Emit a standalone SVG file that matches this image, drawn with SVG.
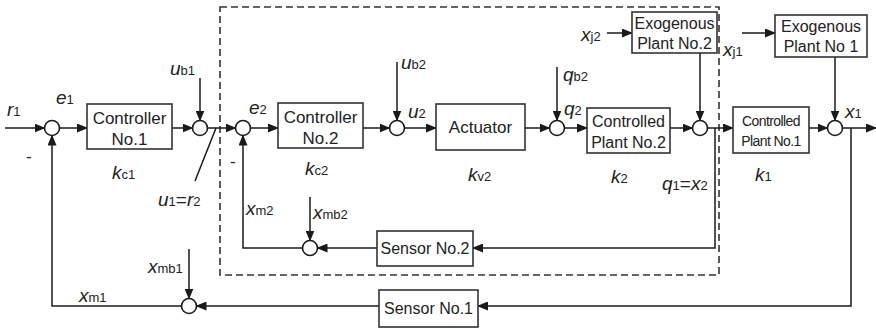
<svg xmlns="http://www.w3.org/2000/svg" width="876" height="331" viewBox="0 0 876 331">
<defs>
<marker id="ah" markerWidth="11" markerHeight="9" refX="10" refY="4.5" orient="auto" markerUnits="userSpaceOnUse">
<path d="M0,0 L11,4.5 L0,9 Z" fill="#1a1a1a"/>
</marker>
</defs>
<style>
.box{fill:#fff;stroke:#333;stroke-width:1.6}
.sum{fill:#fff;stroke:#1a1a1a;stroke-width:1.6}
.ln{fill:none;stroke:#1a1a1a;stroke-width:1.5}
.ar{fill:none;stroke:#1a1a1a;stroke-width:1.5;marker-end:url(#ah)}
.dash{fill:none;stroke:#333;stroke-width:1.6;stroke-dasharray:7,4}
text{font-family:"Liberation Sans",Arial,sans-serif;fill:#222}
.bt{font-size:17px;text-anchor:middle}
.lb{font-size:19px;font-style:italic}
.sb{font-size:13px;font-style:normal}
</style>
<rect class="dash" x="220" y="7" width="499" height="268"/>
<g id="connectors">
<line class="ar" x1="5" y1="128" x2="44.5" y2="128"/>
<line class="ar" x1="59.5" y1="128" x2="87" y2="128"/>
<line class="ar" x1="172" y1="128" x2="192.5" y2="128"/>
<line class="ar" x1="200" y1="78" x2="200" y2="120.5"/>
<line class="ar" x1="207.5" y1="128" x2="235.5" y2="128"/>
<line class="ln" x1="216" y1="128" x2="195" y2="181"/>
<line class="ar" x1="250.5" y1="128" x2="278" y2="128"/>
<line class="ar" x1="363" y1="128" x2="389.5" y2="128"/>
<line class="ar" x1="397" y1="62" x2="397" y2="120.5"/>
<line class="ar" x1="404.5" y1="128" x2="436" y2="128"/>
<line class="ar" x1="525" y1="128" x2="549.5" y2="128"/>
<line class="ar" x1="557" y1="67" x2="557" y2="120.5"/>
<line class="ar" x1="564.5" y1="128" x2="587" y2="128"/>
<line class="ar" x1="670" y1="128" x2="692.5" y2="128"/>
<line class="ar" x1="607" y1="33" x2="632" y2="33"/>
<line class="ar" x1="700" y1="53" x2="700" y2="120.5"/>
<line class="ar" x1="707.5" y1="128" x2="733" y2="128"/>
<polyline class="ar" points="715,128 715,248 473,248"/>
<line class="ar" x1="809" y1="128" x2="827.5" y2="128"/>
<line class="ar" x1="742" y1="33" x2="775" y2="33"/>
<line class="ar" x1="835" y1="57" x2="835" y2="120.5"/>
<line class="ar" x1="842.5" y1="128" x2="876" y2="128"/>
<polyline class="ar" points="851,128 851,306 478,306"/>
<line class="ar" x1="377" y1="248" x2="317.5" y2="248"/>
<line class="ar" x1="310" y1="197" x2="310" y2="240.5"/>
<polyline class="ar" points="302.5,248 243,248 243,135.5"/>
<line class="ar" x1="379" y1="306" x2="196.5" y2="306"/>
<line class="ar" x1="189" y1="249" x2="189" y2="298.5"/>
<polyline class="ar" points="181.5,306 52,306 52,135.5"/>
</g>
<g id="sum1"><circle class="sum" cx="52" cy="128" r="7.5"/></g>
<g id="sum2"><circle class="sum" cx="200" cy="128" r="7.5"/></g>
<g id="sum3"><circle class="sum" cx="243" cy="128" r="7.5"/></g>
<g id="sum4"><circle class="sum" cx="397" cy="128" r="7.5"/></g>
<g id="sum5"><circle class="sum" cx="557" cy="128" r="7.5"/></g>
<g id="sum6"><circle class="sum" cx="700" cy="128" r="7.5"/></g>
<g id="sum7"><circle class="sum" cx="835" cy="128" r="7.5"/></g>
<g id="sum8"><circle class="sum" cx="310" cy="248" r="7.5"/></g>
<g id="sum9"><circle class="sum" cx="189" cy="306" r="7.5"/></g>
<g id="controller1"><rect class="box" x="87" y="104" width="85" height="45"/><text class="bt" x="129.5" y="124">Controller</text><text class="bt" x="129.5" y="145">No.1</text></g>
<g id="controller2"><rect class="box" x="278" y="103" width="85" height="45"/><text class="bt" x="320.5" y="123">Controller</text><text class="bt" x="320.5" y="144">No.2</text></g>
<g id="actuator"><rect class="box" x="436" y="104" width="89" height="46"/><text class="bt" x="480.5" y="133">Actuator</text></g>
<g id="plant2"><rect class="box" x="587" y="108" width="83" height="45"/><text class="bt" x="628.5" y="127" style="font-size:16px">Controlled</text><text class="bt" x="628.5" y="148" style="font-size:16px">Plant No.2</text></g>
<g id="exo2"><rect class="box" x="632" y="12" width="85" height="41"/><text class="bt" x="674.5" y="29" style="font-size:16px">Exogenous</text><text class="bt" x="674.5" y="49" style="font-size:16px">Plant No.2</text></g>
<g id="plant1"><rect class="box" x="733" y="107" width="76" height="46"/><text class="bt" x="771" y="126" style="font-size:14px;letter-spacing:-0.6px">Controlled</text><text class="bt" x="771" y="146" style="font-size:14px;letter-spacing:-0.6px">Plant No.1</text></g>
<g id="exo1"><rect class="box" x="775" y="15" width="92" height="42"/><text class="bt" x="821" y="32" style="font-size:16px">Exogenous</text><text class="bt" x="821" y="52" style="font-size:16px">Plant No 1</text></g>
<g id="sensor2"><rect class="box" x="377" y="231" width="96" height="35"/><text class="bt" x="425" y="254" style="font-size:16px">Sensor No.2</text></g>
<g id="sensor1"><rect class="box" x="379" y="290" width="99" height="37"/><text class="bt" x="428.5" y="314" style="font-size:16px">Sensor No.1</text></g>
<g id="labels">
<text class="lb" x="7" y="116">r<tspan class="sb">1</tspan></text>
<text class="lb" x="56" y="104">e<tspan class="sb">1</tspan></text>
<text style="font-size:17px" x="26" y="162">-</text>
<text class="lb" x="112" y="179">k<tspan class="sb">c1</tspan></text>
<text class="lb" x="170" y="75">u<tspan class="sb">b1</tspan></text>
<text class="lb" x="158" y="206">u<tspan class="sb">1</tspan><tspan style="font-style:normal">=</tspan>r<tspan class="sb">2</tspan></text>
<text class="lb" x="249" y="114">e<tspan class="sb">2</tspan></text>
<text style="font-size:17px" x="230" y="167">-</text>
<text class="lb" x="305" y="175">k<tspan class="sb">c2</tspan></text>
<text class="lb" x="401" y="69">u<tspan class="sb">b2</tspan></text>
<text class="lb" x="408" y="118">u<tspan class="sb">2</tspan></text>
<text class="lb" x="468" y="181">k<tspan class="sb">v2</tspan></text>
<text class="lb" x="563" y="81">q<tspan class="sb">b2</tspan></text>
<text class="lb" x="564" y="115">q<tspan class="sb">2</tspan></text>
<text class="lb" x="581" y="41">x<tspan class="sb">j2</tspan></text>
<text class="lb" x="611" y="183">k<tspan class="sb">2</tspan></text>
<text class="lb" x="662" y="190">q<tspan class="sb">1</tspan><tspan style="font-style:normal">=</tspan>x<tspan class="sb">2</tspan></text>
<text class="lb" x="723" y="56">x<tspan class="sb">j1</tspan></text>
<text class="lb" x="755" y="181">k<tspan class="sb">1</tspan></text>
<text class="lb" x="845" y="118">x<tspan class="sb">1</tspan></text>
<text class="lb" x="246" y="215">x<tspan class="sb">m2</tspan></text>
<text class="lb" x="313" y="219">x<tspan class="sb">mb2</tspan></text>
<text class="lb" x="148" y="273">x<tspan class="sb">mb1</tspan></text>
<text class="lb" x="79" y="302">x<tspan class="sb">m1</tspan></text>
</g>
</svg>
